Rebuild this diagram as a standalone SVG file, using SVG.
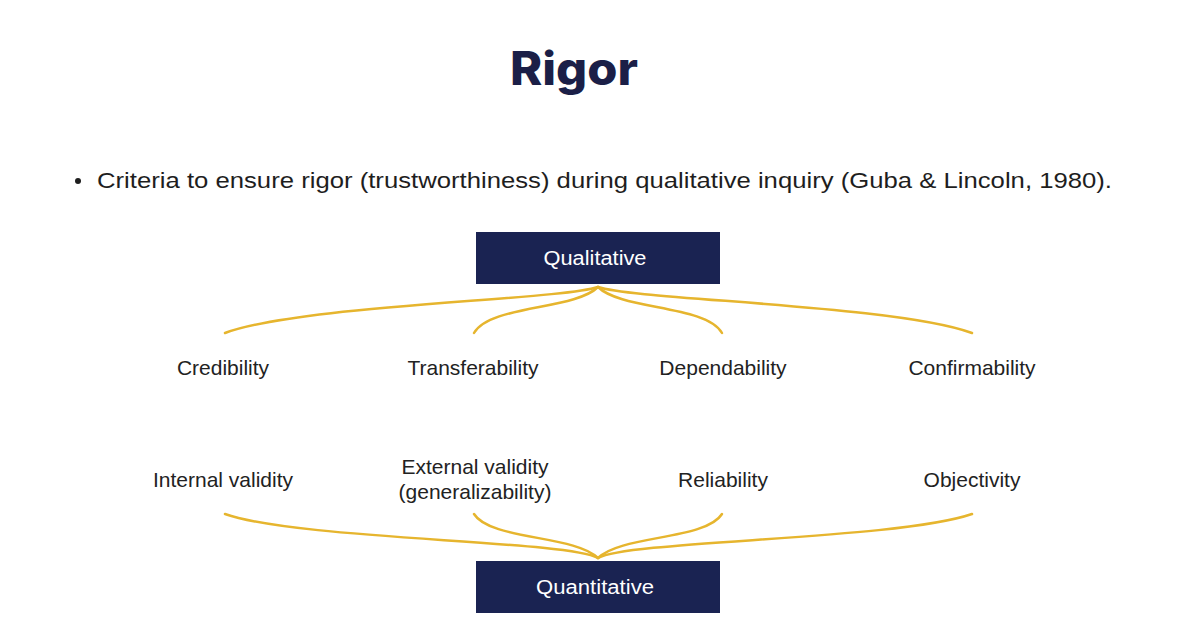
<svg xmlns="http://www.w3.org/2000/svg" width="1196" height="628" viewBox="0 0 1196 628">
<style>
.title{font-family:"Inter","Noto Sans",sans-serif;font-weight:800;font-size:46px;fill:#1b1f47}
.bul{font-family:"Liberation Sans",Arial,sans-serif;font-size:22px;fill:#1e1e1e}
.lbl{font-family:"Liberation Sans",Arial,sans-serif;font-size:21px;fill:#222;text-anchor:middle}
.box{fill:#1a2352}
.btxt{font-family:"Liberation Sans",Arial,sans-serif;font-size:20px;fill:#fff;text-anchor:middle}
.con{fill:none;stroke:#e6b52e;stroke-width:2.5;stroke-linecap:round}
</style>
<rect width="1196" height="628" fill="#ffffff"/>
<text class="title" x="574" y="85" text-anchor="middle" textLength="128" lengthAdjust="spacingAndGlyphs">Rigor</text>
<g id="bullet">
<circle cx="78" cy="181" r="3" fill="#1e1e1e"/>
<text class="bul" x="97" y="188" textLength="1015" lengthAdjust="spacingAndGlyphs">Criteria to ensure rigor (trustworthiness) during qualitative inquiry (Guba &amp; Lincoln, 1980).</text>
</g>
<g id="connectors">
<path class="con" d="M598,287 C560,300 300,305 225,333"/>
<path class="con" d="M598,287 C575,310 490,305 474,333"/>
<path class="con" d="M598,287 C621,310 706,305 722,333"/>
<path class="con" d="M598,287 C636,300 896,305 972,333"/>
<path class="con" d="M598,558 C565,540 300,540 225,514"/>
<path class="con" d="M598,558 C575,535 490,540 474,514"/>
<path class="con" d="M598,558 C621,535 706,540 722,514"/>
<path class="con" d="M598,558 C631,540 896,540 972,514"/>
</g>
<g id="qualitative">
<rect class="box" x="476" y="232" width="244" height="52"/>
<text class="btxt" x="595" y="265" textLength="103" lengthAdjust="spacingAndGlyphs">Qualitative</text>
</g>
<g id="quantitative">
<rect class="box" x="476" y="561" width="244" height="52"/>
<text class="btxt" x="595" y="594" textLength="118" lengthAdjust="spacingAndGlyphs">Quantitative</text>
</g>
<g id="credibility"><text class="lbl" x="223" y="375">Credibility</text></g>
<g id="transferability"><text class="lbl" x="473" y="375">Transferability</text></g>
<g id="dependability"><text class="lbl" x="723" y="375">Dependability</text></g>
<g id="confirmability"><text class="lbl" x="972" y="375">Confirmability</text></g>
<g id="internal-validity"><text class="lbl" x="223" y="487">Internal validity</text></g>
<g id="external-validity"><text class="lbl" x="475" y="474">External validity</text><text class="lbl" x="475" y="499">(generalizability)</text></g>
<g id="reliability"><text class="lbl" x="723" y="487">Reliability</text></g>
<g id="objectivity"><text class="lbl" x="972" y="487">Objectivity</text></g>
</svg>
